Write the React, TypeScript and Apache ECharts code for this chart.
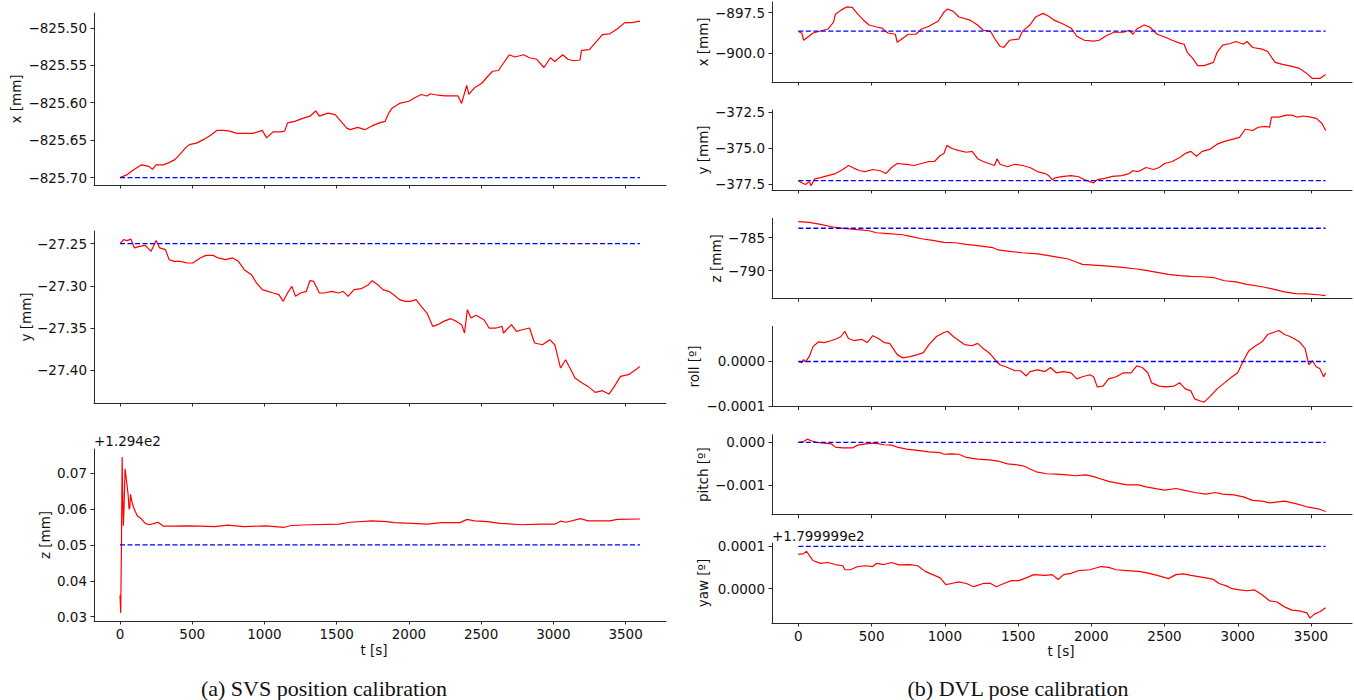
import React, { useEffect, useRef } from "react";
import * as echarts from "echarts";

// ---------- data (t [s], value) ----------
const T_TICKS = [0, 500, 1000, 1500, 2000, 2500, 3000, 3500];

const svsX = [[0,-825.700],[50,-825.696],[100,-825.689],[150,-825.683],[200,-825.685],[225,-825.689],[250,-825.683],[300,-825.683],[340,-825.680],[380,-825.676],[415,-825.669],[455,-825.660],[480,-825.656],[530,-825.654],[580,-825.649],[630,-825.643],[670,-825.637],[720,-825.637],[760,-825.638],[810,-825.641],[860,-825.641],[920,-825.641],[985,-825.637],[1015,-825.647],[1060,-825.639],[1110,-825.639],[1140,-825.638],[1160,-825.627],[1210,-825.625],[1265,-825.621],[1315,-825.618],[1355,-825.611],[1380,-825.618],[1440,-825.614],[1490,-825.616],[1530,-825.625],[1570,-825.634],[1595,-825.636],[1645,-825.633],[1695,-825.636],[1745,-825.631],[1795,-825.627],[1835,-825.625],[1860,-825.614],[1885,-825.607],[1935,-825.601],[2000,-825.598],[2035,-825.594],[2085,-825.589],[2125,-825.591],[2150,-825.588],[2200,-825.590],[2250,-825.591],[2300,-825.591],[2340,-825.591],[2365,-825.601],[2400,-825.577],[2415,-825.589],[2455,-825.580],[2505,-825.574],[2545,-825.565],[2580,-825.558],[2620,-825.557],[2655,-825.547],[2695,-825.536],[2735,-825.539],[2795,-825.536],[2835,-825.540],[2885,-825.542],[2935,-825.553],[2980,-825.540],[3010,-825.545],[3065,-825.536],[3100,-825.542],[3140,-825.544],[3185,-825.543],[3195,-825.530],[3250,-825.529],[3290,-825.520],[3340,-825.509],[3390,-825.508],[3440,-825.502],[3495,-825.493],[3545,-825.493],[3600,-825.491]];
const svsXRef = -825.70;

const svsY = [[0,-27.2500],[25,-27.2452],[50,-27.2464],[75,-27.2445],[100,-27.2551],[135,-27.2532],[175,-27.2520],[215,-27.2591],[250,-27.2464],[275,-27.2551],[315,-27.2571],[340,-27.2690],[375,-27.2710],[415,-27.2710],[465,-27.2730],[505,-27.2730],[555,-27.2670],[595,-27.2639],[645,-27.2639],[680,-27.2670],[730,-27.2690],[780,-27.2670],[820,-27.2710],[860,-27.2809],[910,-27.2868],[945,-27.2967],[985,-27.3046],[1025,-27.3066],[1060,-27.3086],[1100,-27.3106],[1130,-27.3185],[1160,-27.3086],[1190,-27.3007],[1215,-27.3126],[1250,-27.3086],[1290,-27.3066],[1315,-27.2940],[1340,-27.2947],[1380,-27.3086],[1415,-27.3086],[1465,-27.3066],[1515,-27.3086],[1545,-27.3066],[1580,-27.3126],[1620,-27.3046],[1670,-27.3035],[1720,-27.2987],[1745,-27.2940],[1785,-27.2987],[1820,-27.3046],[1860,-27.3066],[1895,-27.3106],[1935,-27.3165],[1975,-27.3185],[2010,-27.3185],[2050,-27.3165],[2085,-27.3244],[2125,-27.3324],[2165,-27.3482],[2200,-27.3462],[2240,-27.3423],[2290,-27.3391],[2330,-27.3423],[2365,-27.3462],[2385,-27.3561],[2405,-27.3284],[2430,-27.3383],[2465,-27.3351],[2520,-27.3403],[2555,-27.3502],[2605,-27.3502],[2645,-27.3482],[2655,-27.3561],[2710,-27.3462],[2745,-27.3541],[2785,-27.3522],[2835,-27.3502],[2870,-27.3680],[2925,-27.3700],[2975,-27.3640],[3010,-27.3700],[3050,-27.3977],[3085,-27.3878],[3115,-27.3977],[3150,-27.4096],[3200,-27.4155],[3240,-27.4195],[3290,-27.4266],[3340,-27.4246],[3385,-27.4286],[3415,-27.4215],[3465,-27.4076],[3520,-27.4056],[3570,-27.3997],[3600,-27.3957]];
const svsYRef = -27.25;

// z shown relative to offset +1.294e2
const svsZ = [[0,0.0360],[5,0.0310],[10,0.0500],[15,0.0745],[18,0.0650],[23,0.0553],[28,0.0604],[35,0.0712],[48,0.0668],[56,0.0641],[63,0.0599],[68,0.0604],[73,0.0641],[81,0.0622],[94,0.0604],[104,0.0595],[119,0.0581],[149,0.0572],[175,0.0560],[200,0.0556],[238,0.0560],[263,0.0563],[301,0.0552],[377,0.0552],[453,0.0553],[555,0.0552],[656,0.0551],[745,0.0555],[859,0.0551],[1011,0.0553],[1137,0.0549],[1188,0.0554],[1315,0.0556],[1517,0.0558],[1593,0.0563],[1745,0.0567],[1847,0.0565],[1897,0.0562],[2024,0.0560],[2125,0.0558],[2227,0.0562],[2353,0.0562],[2404,0.0571],[2454,0.0567],[2543,0.0565],[2632,0.0560],[2784,0.0556],[2910,0.0558],[3012,0.0558],[3050,0.0566],[3088,0.0563],[3189,0.0573],[3240,0.0567],[3392,0.0567],[3442,0.0571],[3600,0.0572]];
const svsZRef = 0.05;

const dvlX = [[0,-898.663],[23,-898.762],[36,-899.208],[61,-899.035],[100,-898.762],[151,-898.639],[202,-898.515],[240,-898.094],[253,-897.599],[291,-897.351],[330,-897.154],[368,-897.178],[406,-897.599],[445,-897.970],[483,-898.267],[534,-898.391],[572,-898.465],[611,-898.762],[662,-898.837],[675,-899.332],[713,-899.084],[751,-898.837],[802,-898.837],[841,-898.515],[892,-898.342],[956,-898.020],[994,-897.475],[1019,-897.277],[1058,-897.426],[1096,-897.772],[1173,-897.970],[1224,-898.267],[1262,-898.589],[1313,-898.663],[1339,-899.084],[1377,-899.579],[1403,-899.653],[1441,-899.208],[1505,-899.134],[1530,-898.663],[1581,-898.267],[1620,-897.772],[1671,-897.550],[1709,-897.723],[1747,-897.970],[1811,-898.218],[1863,-898.465],[1901,-898.960],[1952,-899.208],[2016,-899.257],[2054,-899.208],[2105,-898.911],[2156,-898.713],[2220,-898.713],[2259,-898.589],[2284,-898.837],[2310,-898.515],[2361,-898.267],[2399,-898.391],[2450,-898.837],[2501,-899.010],[2552,-899.208],[2604,-899.381],[2634,-899.455],[2655,-899.950],[2693,-900.322],[2726,-900.767],[2770,-900.767],[2834,-900.569],[2859,-899.950],[2897,-899.505],[2949,-899.406],[2987,-899.282],[3038,-899.455],[3063,-899.282],[3102,-899.653],[3166,-899.752],[3204,-899.901],[3255,-900.569],[3306,-900.693],[3370,-900.817],[3421,-900.940],[3472,-901.262],[3510,-901.560],[3561,-901.560],[3600,-901.312]];
const dvlXRef = -898.65;

const dvlY = [[0,-377.262],[23,-377.402],[48,-377.514],[74,-377.318],[87,-377.597],[112,-377.123],[151,-377.039],[202,-376.899],[253,-376.760],[304,-376.480],[342,-376.201],[381,-376.397],[419,-376.564],[457,-376.620],[508,-376.480],[560,-376.564],[598,-376.760],[636,-376.341],[675,-376.061],[738,-376.117],[790,-376.201],[841,-376.061],[892,-375.922],[930,-375.922],[969,-375.503],[994,-375.363],[1014,-374.804],[1045,-375.000],[1096,-375.168],[1147,-375.279],[1186,-375.223],[1224,-375.726],[1262,-375.922],[1301,-376.061],[1339,-376.201],[1357,-375.726],[1377,-376.117],[1428,-376.285],[1479,-376.117],[1530,-376.201],[1581,-376.341],[1632,-376.620],[1684,-376.760],[1709,-376.899],[1734,-377.179],[1760,-377.039],[1811,-376.955],[1863,-376.899],[1914,-376.983],[1952,-377.179],[1990,-377.318],[2016,-377.402],[2041,-377.179],[2093,-377.095],[2144,-376.955],[2208,-376.899],[2259,-376.760],[2284,-376.564],[2322,-376.620],[2374,-376.341],[2425,-376.480],[2463,-376.341],[2501,-376.061],[2552,-375.922],[2604,-375.642],[2642,-375.363],[2680,-375.223],[2718,-375.559],[2757,-375.223],[2808,-375.084],[2859,-374.721],[2910,-374.525],[2961,-374.385],[3012,-374.246],[3051,-373.687],[3102,-373.771],[3140,-373.548],[3191,-373.492],[3217,-373.548],[3230,-372.849],[3281,-372.849],[3332,-372.710],[3370,-372.710],[3408,-372.849],[3447,-372.766],[3498,-372.849],[3536,-372.933],[3574,-373.268],[3600,-373.771]];
const dvlYRef = -377.25;

const dvlZ = [[0,-782.590],[74,-782.711],[151,-783.012],[227,-783.374],[304,-783.614],[406,-783.795],[483,-783.976],[534,-784.277],[611,-784.398],[713,-784.578],[764,-784.819],[841,-785.181],[917,-785.422],[994,-785.723],[1071,-785.783],[1147,-786.024],[1224,-786.205],[1326,-786.506],[1364,-786.867],[1454,-787.108],[1530,-787.289],[1633,-787.470],[1709,-787.711],[1786,-788.012],[1837,-788.193],[1888,-788.614],[1939,-789.036],[2016,-789.157],[2093,-789.277],[2195,-789.458],[2297,-789.699],[2374,-789.940],[2450,-790.241],[2527,-790.542],[2604,-790.723],[2680,-790.843],[2757,-790.904],[2833,-791.024],[2910,-791.506],[2987,-791.687],[3063,-792.048],[3166,-792.410],[3242,-792.771],[3319,-793.193],[3396,-793.434],[3472,-793.494],[3549,-793.614],[3600,-793.735]];
const dvlZRef = -783.6;

const dvlRoll = [[0,0],[23,-0.27e-5],[36,0.45e-5],[48,-0.09e-5],[74,1.09e-5],[100,3.36e-5],[138,4.45e-5],[176,4.27e-5],[227,4.73e-5],[266,5.18e-5],[291,5.64e-5],[317,6.82e-5],[342,5.18e-5],[381,4.73e-5],[432,5.00e-5],[470,4.27e-5],[508,5.82e-5],[547,5.18e-5],[585,4.27e-5],[623,4.09e-5],[675,1.55e-5],[713,0.82e-5],[764,1.09e-5],[815,1.55e-5],[853,2.00e-5],[892,3.82e-5],[943,5.64e-5],[994,6.55e-5],[1019,6.82e-5],[1058,5.64e-5],[1096,4.73e-5],[1134,3.82e-5],[1186,3.55e-5],[1224,4.09e-5],[1262,2.91e-5],[1301,2.00e-5],[1326,1.09e-5],[1352,0],[1377,-0.73e-5],[1428,-1.36e-5],[1479,-2.09e-5],[1517,-2.09e-5],[1556,-3.27e-5],[1581,-2.27e-5],[1633,-1.91e-5],[1684,-2.27e-5],[1722,-1.36e-5],[1760,-2.55e-5],[1811,-2.27e-5],[1862,-2.55e-5],[1901,-3.91e-5],[1939,-3.45e-5],[1990,-3.00e-5],[2016,-3.45e-5],[2041,-5.73e-5],[2080,-5.55e-5],[2118,-3.91e-5],[2170,-3.45e-5],[2220,-2.55e-5],[2271,-2.55e-5],[2310,-1.00e-5],[2348,-1.36e-5],[2386,-2.55e-5],[2412,-4.82e-5],[2463,-5.55e-5],[2514,-5.73e-5],[2565,-5.55e-5],[2604,-4.82e-5],[2642,-6.18e-5],[2680,-6.64e-5],[2706,-8.45e-5],[2744,-8.91e-5],[2770,-9.18e-5],[2808,-8.00e-5],[2859,-6.18e-5],[2910,-4.82e-5],[2961,-3.45e-5],[3000,-2.55e-5],[3038,0.18e-5],[3076,2.45e-5],[3115,3.36e-5],[3166,4.45e-5],[3204,6.09e-5],[3242,6.55e-5],[3281,7.00e-5],[3319,6.09e-5],[3357,5.64e-5],[3383,5.18e-5],[3421,4.45e-5],[3460,2.91e-5],[3485,-0.73e-5],[3510,0.18e-5],[3536,-1.18e-5],[3561,-1.64e-5],[3587,-3.45e-5],[3600,-2.55e-5]];
const dvlRollRef = 0;

const dvlPitch = [[0,0],[36,0.0187e-3],[61,0.0748e-3],[87,0.0374e-3],[125,0],[176,-0.0187e-3],[227,-0.0374e-3],[253,-0.112e-3],[304,-0.131e-3],[368,-0.131e-3],[406,-0.0654e-3],[457,-0.0374e-3],[521,-0.0187e-3],[585,-0.0561e-3],[636,-0.0654e-3],[675,-0.112e-3],[738,-0.159e-3],[815,-0.187e-3],[892,-0.224e-3],[969,-0.243e-3],[994,-0.280e-3],[1045,-0.271e-3],[1096,-0.280e-3],[1147,-0.355e-3],[1224,-0.393e-3],[1301,-0.411e-3],[1364,-0.439e-3],[1428,-0.505e-3],[1505,-0.533e-3],[1543,-0.561e-3],[1581,-0.626e-3],[1633,-0.701e-3],[1696,-0.738e-3],[1760,-0.748e-3],[1837,-0.766e-3],[1888,-0.785e-3],[1965,-0.766e-3],[2016,-0.804e-3],[2067,-0.860e-3],[2118,-0.916e-3],[2170,-0.953e-3],[2246,-1.000e-3],[2323,-1.000e-3],[2374,-1.047e-3],[2450,-1.093e-3],[2501,-1.121e-3],[2578,-1.084e-3],[2629,-1.121e-3],[2706,-1.178e-3],[2782,-1.215e-3],[2846,-1.178e-3],[2897,-1.215e-3],[2974,-1.234e-3],[3038,-1.280e-3],[3102,-1.364e-3],[3166,-1.383e-3],[3217,-1.421e-3],[3319,-1.383e-3],[3396,-1.439e-3],[3472,-1.514e-3],[3549,-1.561e-3],[3600,-1.626e-3]];
const dvlPitchRef = 0;

// yaw shown relative to offset +1.799999e2
const dvlYaw = [[0,8.10e-5],[36,8.29e-5],[56,8.86e-5],[74,7.90e-5],[100,6.67e-5],[151,6.00e-5],[202,6.19e-5],[253,5.71e-5],[304,5.43e-5],[317,4.48e-5],[355,4.48e-5],[406,5.24e-5],[457,5.43e-5],[508,5.24e-5],[534,6.00e-5],[585,5.71e-5],[636,6.19e-5],[687,5.62e-5],[764,5.71e-5],[815,5.43e-5],[866,4.10e-5],[917,3.33e-5],[969,2.57e-5],[1007,0.95e-5],[1045,1.24e-5],[1096,1.62e-5],[1147,1.24e-5],[1198,0.48e-5],[1262,1.24e-5],[1313,1.24e-5],[1352,0.48e-5],[1403,1.24e-5],[1454,1.90e-5],[1505,1.90e-5],[1556,2.57e-5],[1607,3.33e-5],[1684,3.14e-5],[1734,3.33e-5],[1773,2.19e-5],[1811,3.33e-5],[1862,3.62e-5],[1914,4.29e-5],[1990,4.48e-5],[2067,5.24e-5],[2118,5.05e-5],[2170,4.48e-5],[2246,4.29e-5],[2323,4.10e-5],[2374,3.81e-5],[2450,3.14e-5],[2527,2.38e-5],[2578,3.33e-5],[2629,3.52e-5],[2680,3.14e-5],[2731,2.86e-5],[2782,2.57e-5],[2834,2.19e-5],[2872,1.24e-5],[2923,0.67e-5],[2961,0],[3012,-0.29e-5],[3063,-0.48e-5],[3115,-0.29e-5],[3166,-1.43e-5],[3217,-2.86e-5],[3268,-3.14e-5],[3319,-4.29e-5],[3370,-5.05e-5],[3421,-5.24e-5],[3472,-5.71e-5],[3493,-6.95e-5],[3523,-6.00e-5],[3561,-5.43e-5],[3600,-4.48e-5]];
const dvlYawRef = 1e-4;

const Y_TICKS_SVS_X = [-825.70, -825.65, -825.60, -825.55, -825.50];
const Y_TICKS_SVS_Y = [-27.40, -27.35, -27.30, -27.25];
const Y_TICKS_SVS_Z = [0.03, 0.04, 0.05, 0.06, 0.07];
const Y_TICKS_DVL_X = [-900.0, -897.5];
const Y_TICKS_DVL_Y = [-377.5, -375.0, -372.5];
const Y_TICKS_DVL_Z = [-790, -785];
const Y_TICKS_ROLL = [-0.0001, 0];
const Y_TICKS_PITCH = [-0.001, 0];
const Y_TICKS_YAW = [0, 0.0001];

const FONT = "DejaVu Sans";
const TXT = "#111111";
const AX = "#2a2a2a";
const FS = 13.5;

const fmt = (d: number) => (v: number) => {
  const s = Math.abs(v).toFixed(d);
  return (v < 0 && Math.abs(v) > 1e-12 ? "\u2212" : "") + s;
};

type Panel = {
  data: number[][]; ref: number; ticks: number[]; dec: number;
  min: number; max: number; left: number; top: number; width: number; height: number;
  bottom: boolean; name: string; nx: number;
};

const LW = 572, RW = 580, LH = 172, RH = 80;
const panels: Panel[] = [
  { data: svsX, ref: svsXRef, ticks: Y_TICKS_SVS_X, dec: 2, min: -825.7099, max: -825.4802, left: 94, top: 13, width: LW, height: LH, bottom: false, name: "x [mm]", nx: 16 },
  { data: svsY, ref: svsYRef, ticks: Y_TICKS_SVS_Y, dec: 2, min: -27.4392, max: -27.2350, left: 94, top: 231, width: LW, height: LH, bottom: false, name: "y [mm]", nx: 26 },
  { data: svsZ, ref: svsZRef, ticks: Y_TICKS_SVS_Z, dec: 2, min: 0.0288, max: 0.0767, left: 94, top: 449, width: LW, height: LH, bottom: true, name: "z [mm]", nx: 45 },
  { data: dvlX, ref: dvlXRef, ticks: Y_TICKS_DVL_X, dec: 1, min: -901.78, max: -896.85, left: 772, top: 2, width: RW, height: RH, bottom: false, name: "x [mm]", nx: 703 },
  { data: dvlY, ref: dvlYRef, ticks: Y_TICKS_DVL_Y, dec: 1, min: -377.9, max: -372.35, left: 772, top: 110, width: RW, height: RH, bottom: false, name: "y [mm]", nx: 703 },
  { data: dvlZ, ref: dvlZRef, ticks: Y_TICKS_DVL_Z, dec: 0, min: -794.15, max: -782.1, left: 772, top: 218.3, width: RW, height: RH, bottom: false, name: "z [mm]", nx: 716 },
  { data: dvlRoll, ref: dvlRollRef, ticks: Y_TICKS_ROLL, dec: 4, min: -0.0001016, max: 0.000079, left: 772, top: 326.5, width: RW, height: RH, bottom: false, name: "roll [\u00ba]", nx: 694 },
  { data: dvlPitch, ref: dvlPitchRef, ticks: Y_TICKS_PITCH, dec: 3, min: -0.0017, max: 0.00018, left: 772, top: 434.7, width: RW, height: RH, bottom: false, name: "pitch [\u00ba]", nx: 703 },
  { data: dvlYaw, ref: dvlYawRef, ticks: Y_TICKS_YAW, dec: 4, min: -0.000081, max: 0.000108, left: 772, top: 543, width: RW, height: RH, bottom: true, name: "yaw [\u00ba]", nx: 703 },
];

export default function App() {
  const ref = useRef<HTMLDivElement>(null);
  useEffect(() => {
    if (!ref.current) return;
    const chart = echarts.init(ref.current, undefined, { renderer: "svg" });
    const grid = panels.map((p) => ({ left: p.left, top: p.top, width: p.width, height: p.height, containLabel: false }));
    const xAxis = panels.map((p, i) => ({
      gridIndex: i, type: "value", min: -180, max: 3780,
      axisLine: { show: true, onZero: false, lineStyle: { color: AX, width: 1 } },
      axisTick: { show: true, length: 3.5, customValues: T_TICKS, lineStyle: { color: AX, width: 1 } },
      axisLabel: { show: p.bottom, customValues: T_TICKS, formatter: (v: number) => String(Math.round(v)), fontSize: FS, fontFamily: FONT, color: TXT, margin: 6 },
      splitLine: { show: false },
    }));
    const yAxis = panels.map((p, i) => ({
      gridIndex: i, type: "value", min: p.min, max: p.max,
      axisLine: { show: true, onZero: false, lineStyle: { color: AX, width: 1 } },
      axisTick: { show: true, length: 3.5, customValues: p.ticks, lineStyle: { color: AX, width: 1 } },
      axisLabel: { show: true, customValues: p.ticks, formatter: fmt(p.dec), fontSize: FS, fontFamily: FONT, color: TXT, margin: 7 },
      splitLine: { show: false },
    }));
    const series: any[] = [];
    panels.forEach((p, i) => {
      series.push({
        type: "line", xAxisIndex: i, yAxisIndex: i, data: p.data, showSymbol: false, symbol: "none",
        lineStyle: { color: "#ff0000", width: 1.2 }, z: 2, clip: true,
      });
      series.push({
        type: "line", xAxisIndex: i, yAxisIndex: i, data: [[0, p.ref], [3600, p.ref]], showSymbol: false, symbol: "none",
        lineStyle: { color: "#0000ff", width: 1.3, type: [5, 2.5] }, z: 3,
      });
    });
    const txt = (text: string, x: number, y: number, opts: any = {}) => ({
      type: "text", x, y, rotation: opts.rotation || 0,
      style: {
        text, fill: TXT, font: `${opts.size || FS}px ${opts.family || "'DejaVu Sans'"}`,
        textAlign: opts.align || "center", textVerticalAlign: "middle",
      },
    });
    const graphic: any[] = [];
    panels.forEach((p) => {
      graphic.push(txt(p.name, p.nx, p.top + p.height / 2, { rotation: Math.PI / 2 }));
    });
    graphic.push(txt("+1.294e2", 94, 441, { align: "left" }));
    graphic.push(txt("+1.799999e2", 772, 535.5, { align: "left" }));
    graphic.push(txt("t [s]", 374, 650));
    graphic.push(txt("t [s]", 1061, 651));
    graphic.push(txt("(a) SVS position calibration", 324, 688, { size: 22, family: "'Liberation Serif', 'Times New Roman', serif" }));
    graphic.push(txt("(b) DVL pose calibration", 1018, 688, { size: 22, family: "'Liberation Serif', 'Times New Roman', serif" }));

    chart.setOption({
      animation: false,
      backgroundColor: "#ffffff",
      grid, xAxis, yAxis, series, graphic,
    });
    return () => chart.dispose();
  }, []);
  return (
    <div
      ref={ref}
      style={{ position: "fixed", left: 0, top: 0, width: 1354, height: 700, background: "#fff" }}
    />
  );
}
